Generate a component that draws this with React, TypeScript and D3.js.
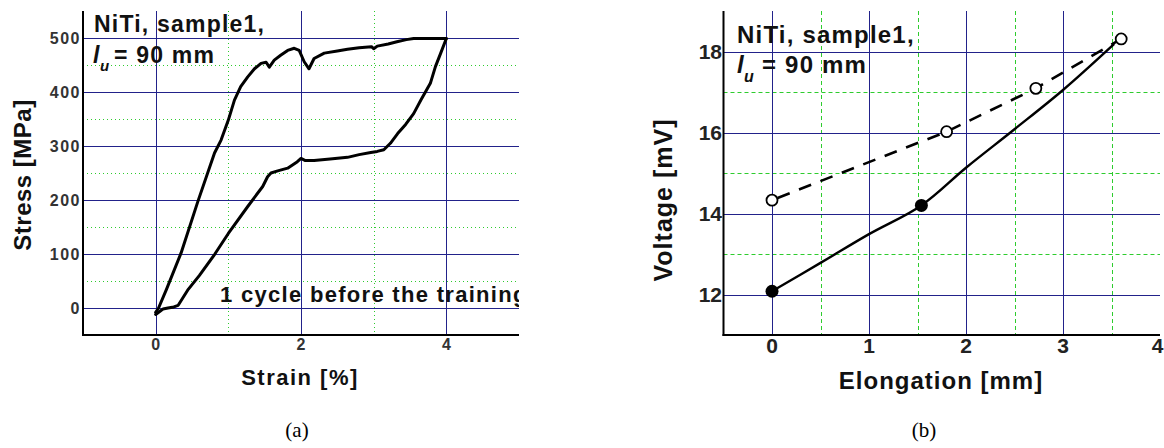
import React from "react";
import * as d3 from "d3";

// ---------- Data: panel (a) stress-strain ----------
const loadStrain = [0, 0.04, 0.15, 0.35, 0.58, 0.81, 0.9, 1.0, 1.084, 1.17, 1.267, 1.36, 1.45, 1.52, 1.564, 1.632, 1.72, 1.816, 1.907, 1.975, 2.044, 2.11, 2.18, 2.32, 2.5, 2.64, 2.8, 2.97, 3.0, 3.05, 3.2, 3.32, 3.45, 3.55, 3.75, 4.0];
const loadStress = [-8, 0, 35, 102, 197, 287, 311, 348, 385, 410, 428, 443, 453, 455, 446, 459, 468, 477, 481, 477, 456, 443, 462, 472, 476, 479, 482, 484, 480, 485, 489, 493, 497, 499, 499, 499];
const unloadStrain = [4.0, 3.92, 3.85, 3.78, 3.65, 3.55, 3.44, 3.33, 3.23, 3.14, 3.05, 2.96, 2.8, 2.64, 2.4, 2.18, 2.06, 2.0, 1.95, 1.816, 1.68, 1.587, 1.54, 1.473, 1.267, 1.0, 0.81, 0.6, 0.44, 0.31, 0.25, 0.17, 0.1, 0.06, 0.0];
const unloadStress = [499, 471, 447, 416, 385, 360, 340, 323, 305, 293, 290, 288, 284, 279, 276, 273, 273, 277, 271, 259, 254, 250, 243, 225, 188, 138, 99, 60, 33, 5, 2, 0, -2, -6, -12];

const aXTicks = [0, 2, 4];
const aXMinor = [1, 3];
const aYTicks = [0, 100, 200, 300, 400, 500];
const aYMinor = [50, 150, 250, 350, 450];

// ---------- Data: panel (b) voltage-elongation ----------
const solidElong = [0, 0.5, 1, 1.54, 2, 2.5, 3, 3.52];
const solidVolt = [12.08, 12.78, 13.49, 14.2, 15.13, 16.08, 17.05, 18.17];
const filledElong = [0, 1.54];
const filledVolt = [12.08, 14.2];
const openElong = [0, 1.8, 2.72, 3.6];
const openVolt = [14.33, 16.02, 17.09, 18.31];

const bXTicks = [0, 1, 2, 3, 4];
const bXMinor = [0.5, 1.5, 2.5, 3.5];
const bYTicks = [12, 14, 16, 18];
const bYMinor = [13, 15, 17];

const BLUE = "#22228a";
const GREEN = "#2ecc2e";
const SANS = "Arial, 'Liberation Sans', sans-serif";
const NARROW = "'Liberation Sans Narrow', 'Arial Narrow', Arial, 'Liberation Sans', sans-serif";
const SERIF = "'Times New Roman', 'Liberation Serif', serif";

const crisp = (v: number) => Math.round(v) + 0.5;

export default function App() {
  // Panel (a) geometry
  const aL = 83, aR = 519, aT = 11, aB = 335;
  const ax = d3.scaleLinear().domain([-1, 5]).range([aL, aR]);
  const ay = d3.scaleLinear().domain([-50, 550]).range([aB, aT]);

  // Panel (b) geometry
  const bL = 723.5, bR = 1160, bT = 11, bB = 335;
  const bx = d3.scaleLinear().domain([-0.5, 4]).range([bL, bR]);
  const by = d3.scaleLinear().domain([11, 19]).range([bB, bT]);

  const aLine = d3.line<[number, number]>().x((d) => ax(d[0])).y((d) => ay(d[1])).curve(d3.curveLinear);
  const loadPath = aLine(loadStrain.map((s, i) => [s, loadStress[i]]) as [number, number][]) || "";
  const unloadPath = aLine(unloadStrain.map((s, i) => [s, unloadStress[i]]) as [number, number][]) || "";

  const bSolid = d3.line<[number, number]>().x((d) => bx(d[0])).y((d) => by(d[1])).curve(d3.curveCatmullRom.alpha(0.5));
  const solidPath = bSolid(solidElong.map((e, i) => [e, solidVolt[i]]) as [number, number][]) || "";
  const bLin = d3.line<[number, number]>().x((d) => bx(d[0])).y((d) => by(d[1]));
  const dashPath = bLin(openElong.map((e, i) => [e, openVolt[i]]) as [number, number][]) || "";

  return (
    <svg width={1164} height={448} style={{ position: "absolute", left: 0, top: 0, background: "#fff" }}>
      <defs>
        <clipPath id="clipA">
          <rect x={aL} y={aT} width={aR - aL} height={aB - aT} />
        </clipPath>
        <clipPath id="clipB">
          <rect x={bL} y={0} width={bR - bL + 4} height={bB} />
        </clipPath>
      </defs>
      <rect x={0} y={0} width={1164} height={448} fill="#fff" />

      {/* ===== Panel (a) ===== */}
      <g>
        {aXMinor.map((v) => (
          <line key={"axm" + v} x1={crisp(ax(v))} x2={crisp(ax(v))} y1={aT} y2={aB} stroke={GREEN} strokeWidth={1} strokeDasharray="1,3" />
        ))}
        {aYMinor.map((v) => (
          <line key={"aym" + v} x1={aL} x2={aR} y1={crisp(ay(v))} y2={crisp(ay(v))} stroke={GREEN} strokeWidth={1} strokeDasharray="1,3" />
        ))}
        {aXTicks.map((v) => (
          <line key={"axg" + v} x1={crisp(ax(v))} x2={crisp(ax(v))} y1={aT} y2={aB} stroke={BLUE} strokeWidth={1} />
        ))}
        {aYTicks.map((v) => (
          <line key={"ayg" + v} x1={aL} x2={aR} y1={crisp(ay(v))} y2={crisp(ay(v))} stroke={BLUE} strokeWidth={1} />
        ))}
        <line x1={aL} x2={aL} y1={aT} y2={aB + 1} stroke="#000" strokeWidth={2} />
        <line x1={aL - 1} x2={aR} y1={aB} y2={aB} stroke="#000" strokeWidth={2} />

        <g clipPath="url(#clipA)">
          <path d={loadPath} fill="none" stroke="#000" strokeWidth={3} strokeLinejoin="round" strokeLinecap="round" />
          <path d={unloadPath} fill="none" stroke="#000" strokeWidth={3} strokeLinejoin="round" strokeLinecap="round" />
          <text x={220} y={302} fontFamily={SANS} fontWeight="bold" fontSize={22} letterSpacing={1.3} fill="#111">
            1 cycle before the training
          </text>
        </g>

        {aYTicks.map((v) => (
          <text key={"ayt" + v} x={81} y={ay(v) + 6} textAnchor="end" fontFamily={SANS} fontWeight="bold" fontSize={16} letterSpacing={1.5} fill="#333">
            {v}
          </text>
        ))}
        {aXTicks.map((v) => (
          <text key={"axt" + v} x={ax(v) + 0.75} y={350} textAnchor="middle" fontFamily={SANS} fontWeight="bold" fontSize={16} letterSpacing={1.5} fill="#333">
            {v}
          </text>
        ))}

        <text x={94} y={32} fontFamily={SANS} fontWeight="bold" fontSize={23} letterSpacing={1.2} fill="#111">
          NiTi, sample1,
        </text>
        <text y={63} fontFamily={SANS} fontWeight="bold" fontSize={23} letterSpacing={1.2} fill="#111">
          <tspan x={93} fontStyle="italic">l</tspan>
          <tspan x={100} dy={8} fontStyle="italic" fontSize={15}>u</tspan>
          <tspan x={114} dy={-8}>= 90 mm</tspan>
        </text>

        <text transform="translate(31,175) rotate(-90)" textAnchor="middle" fontFamily={SANS} fontWeight="bold" fontSize={24} letterSpacing={0.5} fill="#111">
          Stress [MPa]
        </text>
        <text x={300} y={385} textAnchor="middle" fontFamily={SANS} fontWeight="bold" fontSize={22} letterSpacing={1.5} fill="#111">
          Strain [%]
        </text>
        <text x={297} y={437} textAnchor="middle" fontFamily={SERIF} fontSize={21} fill="#000">
          (a)
        </text>
      </g>

      {/* ===== Panel (b) ===== */}
      <g>
        {bXMinor.map((v) => (
          <line key={"bxm" + v} x1={crisp(bx(v))} x2={crisp(bx(v))} y1={bT} y2={bB} stroke={GREEN} strokeWidth={1} strokeDasharray="4,3" />
        ))}
        {bYMinor.map((v) => (
          <line key={"bym" + v} x1={bL} x2={bR} y1={crisp(by(v))} y2={crisp(by(v))} stroke={GREEN} strokeWidth={1} strokeDasharray="4,3" />
        ))}
        {bXTicks.filter((v) => v < 4).map((v) => (
          <line key={"bxg" + v} x1={crisp(bx(v))} x2={crisp(bx(v))} y1={bT} y2={bB} stroke={BLUE} strokeWidth={1} />
        ))}
        {bYTicks.map((v) => (
          <line key={"byg" + v} x1={bL} x2={bR} y1={crisp(by(v))} y2={crisp(by(v))} stroke={BLUE} strokeWidth={1} />
        ))}
        <line x1={bL} x2={bL} y1={bT} y2={bB + 1} stroke="#000" strokeWidth={2} />
        <line x1={bL - 1} x2={bR} y1={bB} y2={bB} stroke="#000" strokeWidth={2} />

        <g clipPath="url(#clipB)">
          <path d={dashPath} fill="none" stroke="#000" strokeWidth={2.6} strokeDasharray="13,10" strokeDashoffset={-6} />
          <path d={solidPath} fill="none" stroke="#000" strokeWidth={2.4} strokeLinecap="round" />
          {openElong.map((e, i) => (
            <circle key={"oc" + i} cx={bx(e)} cy={by(openVolt[i])} r={5.5} fill="#fff" stroke="#000" strokeWidth={1.8} />
          ))}
          {filledElong.map((e, i) => (
            <circle key={"fc" + i} cx={bx(e)} cy={by(filledVolt[i])} r={6.5} fill="#000" />
          ))}
        </g>

        {bYTicks.map((v) => (
          <text key={"byt" + v} x={722} y={by(v) + 7.5} textAnchor="end" fontFamily={NARROW} fontWeight="bold" fontSize={21} fill="#222">
            {v}
          </text>
        ))}
        {bXTicks.map((v) => (
          <text key={"bxt" + v} x={v === 4 ? 1163.5 : bx(v)} y={352.5} textAnchor={v === 4 ? "end" : "middle"} fontFamily={NARROW} fontWeight="bold" fontSize={21} fill="#222">
            {v}
          </text>
        ))}

        <text x={737} y={42.5} fontFamily={SANS} fontWeight="bold" fontSize={24} letterSpacing={1.2} fill="#111">
          NiTi, sample1,
        </text>
        <text y={73} fontFamily={SANS} fontWeight="bold" fontSize={24} letterSpacing={1.2} fill="#111">
          <tspan x={737} fontStyle="italic">l</tspan>
          <tspan x={744} dy={9} fontStyle="italic" fontSize={16}>u</tspan>
          <tspan x={762} dy={-9}>= 90 mm</tspan>
        </text>

        <text transform="translate(671.5,200) rotate(-90)" textAnchor="middle" fontFamily={SANS} fontWeight="bold" fontSize={25} letterSpacing={1} fill="#111">
          Voltage [mV]
        </text>
        <text x={941} y={389} textAnchor="middle" fontFamily={SANS} fontWeight="bold" fontSize={24} letterSpacing={1} fill="#111">
          Elongation [mm]
        </text>
        <text x={924} y={437} textAnchor="middle" fontFamily={SERIF} fontSize={21} fill="#000">
          (b)
        </text>
      </g>
    </svg>
  );
}
